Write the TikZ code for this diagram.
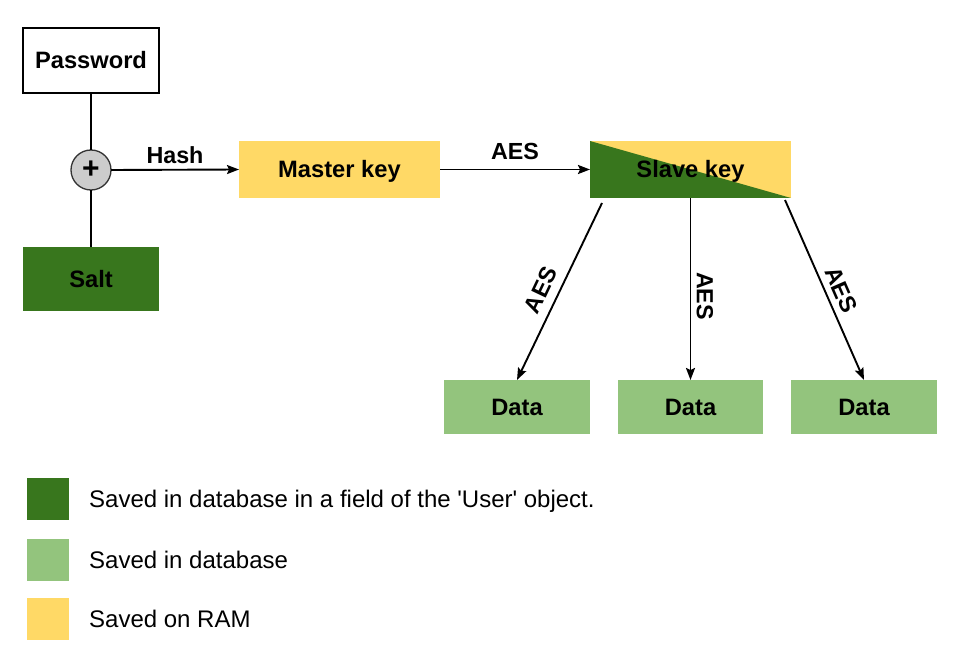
\documentclass[tikz,border=0pt]{standalone}
\usepackage{fontspec}
\setmainfont{Liberation Sans}
\usetikzlibrary{arrows.meta,calc}
\definecolor{dkgreen}{HTML}{38761D}
\definecolor{ltgreen}{HTML}{93C47D}
\definecolor{ramyellow}{HTML}{FFD966}
\begin{document}
\begin{tikzpicture}[x=1pt,y=-1pt,
  box/.style={rectangle,outer sep=0pt,inner sep=0pt,text height=17pt,text depth=0pt,font=\fontsize{23.7}{28}\selectfont\bfseries},
  lbl/.style={font=\fontsize{23.3}{28}\selectfont\bfseries,inner sep=1pt},
  conn/.style={line width=1.9pt,draw=black},
  arr/.style={conn,-{Stealth[length=12pt,width=9pt,inset=2pt]}},
  legtxt/.style={font=\fontsize{24}{28}\selectfont,anchor=west,inner sep=0pt,text height=17.2pt,text depth=0pt}]
\useasboundingbox (0,0) rectangle (955,652);
% boxes
\node[box,draw=black,line width=1.2pt,fill=white,minimum width=136,minimum height=65] (pw) at (91,60.5) {Password};
\node[box,fill=dkgreen,minimum width=136,minimum height=64] (salt) at (91,279) {Salt};
\node[circle,draw=black!80,fill=black!20,line width=1.3pt,minimum size=40,inner sep=0pt,outer sep=0pt] (plus) at (91,170) {};
\node[font=\fontsize{30}{30}\selectfont\bfseries,inner sep=0pt] at (91,170) {+};
\node[box,fill=ramyellow,minimum width=201,minimum height=57] (master) at (339.5,169.5) {Master key};
% slave key split fill
\fill[ramyellow] (590,141) rectangle (791,198);
\fill[dkgreen] (590,141) -- (791,198) -- (590,198) -- cycle;
\node[box,minimum width=201,minimum height=57] (slave) at (690.5,169.5) {Slave key};
\node[box,fill=ltgreen,minimum width=146,minimum height=54] (d1) at (517,407) {Data};
\node[box,fill=ltgreen,minimum width=145,minimum height=54] (d2) at (690.5,407) {Data};
\node[box,fill=ltgreen,minimum width=146,minimum height=54] (d3) at (864,407) {Data};
% connectors
\draw[conn] (pw.south) -- (plus.north);
\draw[conn] (plus.south) -- (salt.north);
\draw[arr] (plus.east) -- (master.west) node[lbl,midway,above=4pt] {Hash};
\draw[arr] (master.east) -- (slave.west) node[lbl,midway,above=8pt] {AES};
\coordinate (s1) at (602,203);
\coordinate (s2) at (690.5,198);
\coordinate (s3) at (785,200);
\draw[arr] (s1) -- (d1.north);
\draw[arr] (s2) -- (d2.north);
\draw[arr] (s3) -- (d3.north);
\node[lbl,rotate=64.6] at (541,290) {AES};
\node[lbl,rotate=-90] at (705,296) {AES};
\node[lbl,rotate=-66.3] at (841,290) {AES};
% legend
\node[fill=dkgreen,minimum size=42,inner sep=0pt] (l1) at (48,499) {};
\node[fill=ltgreen,minimum size=42,inner sep=0pt] (l2) at (48,560) {};
\node[fill=ramyellow,minimum size=42,inner sep=0pt] (l3) at (48,619) {};
\node[legtxt] at (89,499) {Saved in database in a field of the \textquotesingle User\textquotesingle{} object.};
\node[legtxt] at (89,560) {Saved in database};
\node[legtxt] at (89,619) {Saved on RAM};
\end{tikzpicture}
\end{document}
